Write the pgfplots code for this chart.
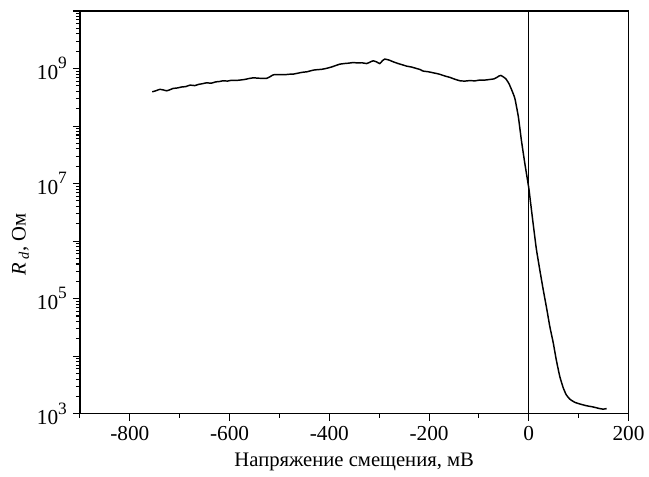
\documentclass[border=0pt]{standalone}
\usepackage{fontspec}
\setmainfont{Liberation Serif}
\usepackage{pgfplots}
\pgfplotsset{compat=1.18}

\newcommand{\dec}[1]{10\raisebox{0.5em}{\fontsize{13}{13}\selectfont #1}}

\begin{document}
\begin{tikzpicture}
\begin{axis}[
    scale only axis,
    width=411.75pt, height=302.25pt,
    xmin=-900, xmax=200,
    ymode=log, ymin=1e3, ymax=1e10,
    xtick={-800,-600,-400,-200,0,200},
    xticklabels={-800,-600,-400,-200,0,200},
    minor xtick={-900,-700,-500,-300,-100,100},
    ytick={1e3,1e4,1e5,1e6,1e7,1e8,1e9,1e10},
    yticklabels={\dec{3},,\dec{5},,\dec{7},,\dec{9},},
    minor ytick={2e3,3e3,4e3,5e3,6e3,7e3,8e3,9e3,
                 2e4,3e4,4e4,5e4,6e4,7e4,8e4,9e4,
                 2e5,3e5,4e5,5e5,6e5,7e5,8e5,9e5,
                 2e6,3e6,4e6,5e6,6e6,7e6,8e6,9e6,
                 2e7,3e7,4e7,5e7,6e7,7e7,8e7,9e7,
                 2e8,3e8,4e8,5e8,6e8,7e8,8e8,9e8,
                 2e9,3e9,4e9,5e9,6e9,7e9,8e9,9e9},
    xtick pos=left, ytick pos=left,
    tick align=outside,
    major tick length=5.25pt, minor tick length=3pt,
    every tick/.style={black, line width=0.8pt},
    axis line style={line width=0.9pt},
    tick label style={font=\fontsize{16}{18}\selectfont},
    xticklabel style={yshift=-1pt},
    yticklabel style={xshift=-1pt},
    label style={font=\fontsize{15.5}{18}\selectfont},
    xlabel={Напряжение смещения, мВ},
    ylabel={\textit{R}\,\textsubscript{\textit{d}}, Ом},
    xlabel style={yshift=-2pt},
    ylabel style={at={(ticklabel cs:0.42)}, yshift=-1pt},
]
\addplot[black, line width=1pt] coordinates {(0,1e3)(0,1e10)};
\addplot[black, line width=1.1pt, smooth, tension=0.3] coordinates {
(-755,3.94e8)(-748,4.10e8)(-740,4.34e8)(-733,4.25e8)(-726,4.10e8)
(-719,4.30e8)(-713,4.51e8)(-704,4.60e8)(-696,4.78e8)(-688,4.85e8)
(-679,5.15e8)(-670,5.05e8)(-662,5.30e8)(-654,5.45e8)(-646,5.65e8)
(-637,5.55e8)(-628,5.85e8)(-620,5.95e8)(-613,6.12e8)(-604,6.05e8)
(-596,6.25e8)(-588,6.20e8)(-579,6.30e8)(-570,6.45e8)(-561,6.70e8)
(-552,6.90e8)(-544,6.80e8)(-535,6.75e8)(-526,6.73e8)(-519,7.20e8)
(-512,7.78e8)(-500,7.85e8)(-490,7.80e8)(-481,7.95e8)(-472,8.00e8)
(-463,8.30e8)(-454,8.60e8)(-445,8.77e8)(-438,9.10e8)(-432,9.38e8)
(-424,9.55e8)(-415,9.70e8)(-406,1.005e9)(-396,1.06e9)(-388,1.12e9)
(-379,1.19e9)(-370,1.22e9)(-361,1.24e9)(-352,1.27e9)(-344,1.25e9)
(-335,1.26e9)(-325,1.22e9)(-318,1.30e9)(-312,1.36e9)(-305,1.30e9)
(-299,1.22e9)(-293,1.38e9)(-289,1.46e9)(-280,1.40e9)(-272,1.31e9)
(-262,1.22e9)(-252,1.15e9)(-245,1.10e9)(-235,1.06e9)(-225,1.00e9)
(-218,9.60e8)(-212,9.02e8)(-202,8.80e8)(-192,8.43e8)(-185,8.20e8)
(-178,7.91e8)(-168,7.40e8)(-158,7.00e8)(-148,6.50e8)(-138,6.12e8)
(-128,6.05e8)(-118,6.17e8)(-108,6.10e8)(-98,6.31e8)(-88,6.30e8)
(-78,6.46e8)(-70,6.60e8)(-65,6.92e8)(-60,7.40e8)(-56,7.59e8)
(-52,7.24e8)(-46,6.61e8)(-40,5.50e8)(-34,4.17e8)(-28,3.02e8)
(-21,1.45e8)(-15,5.75e7)(-8,2.24e7)(0,8.3e6)(2,6.0e6)
(8,2.24e6)(15,7.4e5)(22,3.16e5)(29,1.41e5)(36,6.6e4)
(42,3.31e4)(49,1.70e4)(55,8.7e3)(62,4.47e3)(69,2.82e3)
(75,2.14e3)(82,1.80e3)(92,1.58e3)(102,1.48e3)(115,1.38e3)
(129,1.31e3)(140,1.24e3)(149,1.20e3)(156,1.23e3)
};
\coordinate (bl) at (rel axis cs:-0.1457,-0.1563);
\coordinate (tr) at (rel axis cs:1.0364,1.0273);
\end{axis}
\path (bl) rectangle (tr);
\end{tikzpicture}
\end{document}
